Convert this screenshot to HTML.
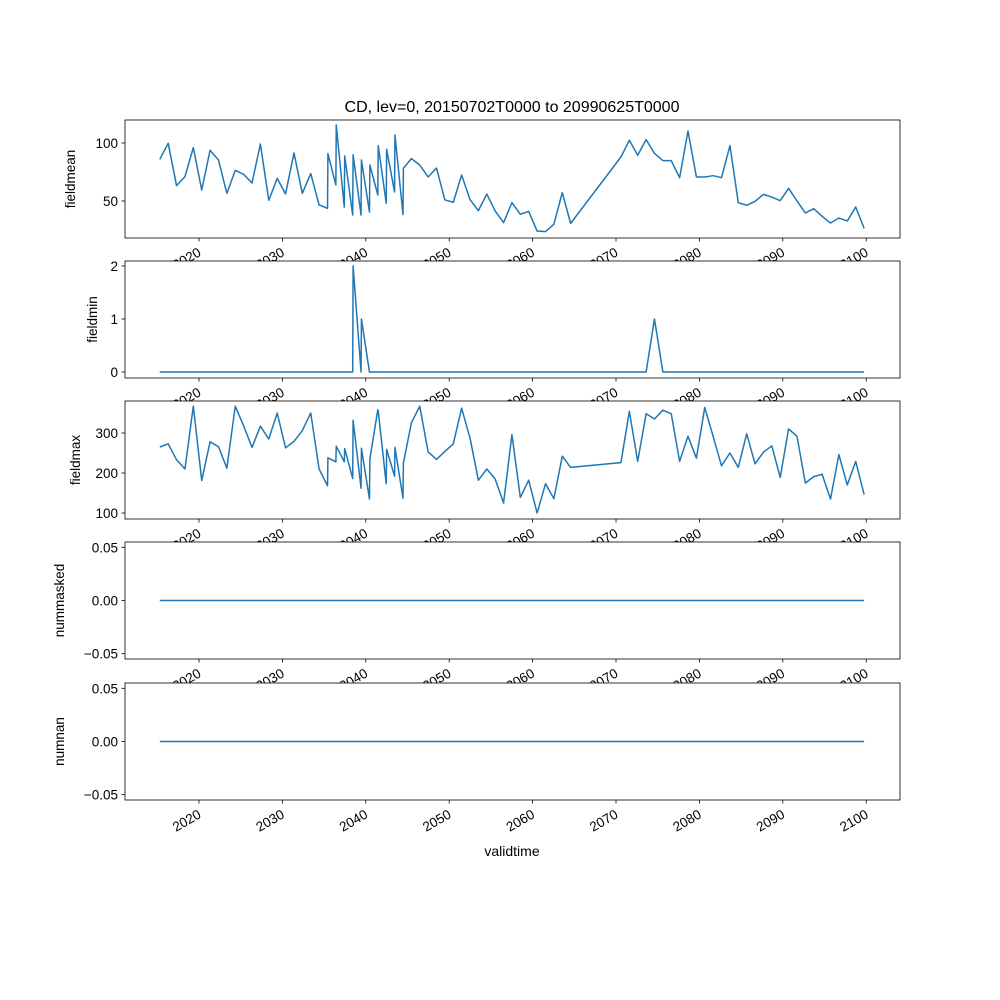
<!DOCTYPE html>
<html><head><meta charset="utf-8"><style>
body{margin:0;background:#fff}
svg{display:block;font-family:"Liberation Sans","DejaVu Sans",sans-serif}
</style></head><body>
<svg id="fig" width="1000" height="1000" viewBox="0 0 1000 1000">
<rect width="1000" height="1000" fill="#fff"/>
<text x="512" y="112" font-size="16" text-anchor="middle">CD, lev=0, 20150702T0000 to 20990625T0000</text>
<text x="512" y="856" font-size="14" text-anchor="middle">validtime</text>
</svg>
<script>
const years=[2015.3,2016.31,2017.31,2018.32,2019.32,2020.33,2021.33,2022.34,2023.34,2024.35,2025.35,2026.36,2027.36,2028.37,2029.38,2030.38,2031.39,2032.39,2033.4,2034.4,
2035.41,2035.46,2036.41,2036.46,2037.42,2037.47,2038.43,2038.48,2039.43,2039.48,2040.44,2040.49,2041.44,2041.49,2042.45,2042.5,2043.45,2043.5,2044.46,2044.51,
2045.46,2046.47,2047.47,2048.48,2049.48,2050.49,2051.49,2052.5,2053.5,2054.51,2055.51,2056.52,2057.52,2058.53,2059.53,2060.54,2061.55,2062.55,2063.56,2064.56,
2070.59,2071.6,2072.6,2073.61,2074.61,2075.62,2076.62,2077.63,2078.63,2079.64,2080.64,2081.65,2082.65,2083.66,2084.66,2085.67,2086.67,2087.68,2088.68,2089.69,
2090.69,2091.7,2092.7,2093.71,2094.71,2095.72,2096.72,2097.73,2098.74,2099.75];
const fieldmean=[85.9,99.7,63.2,71.0,96.0,59.5,93.7,85.3,56.6,76.4,73.0,65.5,99.1,50.6,69.5,56.0,91.4,56.6,73.6,46.6,
43.7,90.8,63.8,115.5,44.8,88.8,37.9,89.9,37.9,85.3,40.5,81.0,55.2,97.7,48.0,94.5,57.8,106.9,38.2,78.2,
86.5,81.0,70.7,78.4,50.9,48.9,72.4,51.1,41.7,56.0,41.4,31.3,48.6,38.5,41.1,24.1,23.6,29.9,57.2,30.7,
87.9,102.3,89.4,102.9,91.1,84.8,84.8,70.1,110.3,70.7,70.7,71.8,70.1,97.7,48.6,46.3,49.7,55.7,53.4,50.3,
60.9,50.0,39.7,43.4,36.8,31.0,35.3,32.8,44.8,26.4];
const fieldmin=years.map(y=>0);
fieldmin[27]=2; fieldmin[29]=1; fieldmin[64]=1;
const fieldmax=[265,273,233,210,367,181,278,266,212,367,318,264,317,285,350,263,279,306,350,210,
168,238,228,267,228,261,186,332,162,262,135,235,358,355,173,259,192,264,137,225,
325,367,253,234,254,273,362,287,182,210,185,125,296,139,182,100,173,136,242,214,
226,354,229,348,335,357,348,229,292,237,364,291,218,250,214,298,223,252,268,189,
310,292,175,191,197,135,246,170,229,146];
const nummasked=years.map(y=>0);
const numnan=years.map(y=>0);
const xTicks=[2020,2030,2040,2050,2060,2070,2080,2090,2100];
const panels=[
 {name:'fieldmean',vals:fieldmean,top:120,bot:238,ymin:18.1,ymax:119.8,ticks:[50,100],lab:v=>String(v),lx:75},
 {name:'fieldmin',vals:fieldmin,top:261,bot:378,ymin:-0.113,ymax:2.094,ticks:[0,1,2],lab:v=>String(v),lx:97},
 {name:'fieldmax',vals:fieldmax,top:401,bot:519,ymin:85,ymax:380,ticks:[100,200,300],lab:v=>String(v),lx:80},
 {name:'nummasked',vals:nummasked,top:542,bot:659,ymin:-0.055,ymax:0.055,ticks:[-0.05,0,0.05],lab:v=>(v<0?'\u22120.05':v.toFixed(2)),lx:64},
 {name:'numnan',vals:numnan,top:683,bot:800,ymin:-0.055,ymax:0.055,ticks:[-0.05,0,0.05],lab:v=>(v<0?'\u22120.05':v.toFixed(2)),lx:64}
];
const NS='http://www.w3.org/2000/svg';
const svg=document.getElementById('fig');
const L=125,R=900,XMIN=2011.13,XMAX=2104.05;
const xs=v=>L+(v-XMIN)/(XMAX-XMIN)*(R-L);
function mk(tag,at,parent){const e=document.createElementNS(NS,tag);for(const k in at)e.setAttribute(k,at[k]);(parent||svg).appendChild(e);return e;}
panels.forEach((p,i)=>{
 const ys=v=>p.bot-(v-p.ymin)/(p.ymax-p.ymin)*(p.bot-p.top);
 const g=mk('g',{});
 
 
 const bg=mk('rect',{x:L,y:p.top,width:R-L,height:p.bot-p.top,fill:'#fff'},g);
 
 
 const d=years.map((y,j)=>(j?'L':'M')+xs(y).toFixed(2)+' '+ys(p.vals[j]).toFixed(2)).join(' ');
 const line=mk('path',{d:d,fill:'none',stroke:'#1f77b4','stroke-width':1.5,'stroke-linejoin':'round'},g);
 
 
 const fr=mk('rect',{x:L,y:p.top,width:R-L,height:p.bot-p.top,fill:'none',stroke:'#000','stroke-width':0.8},g);
 
 
 p.ticks.forEach(t=>{
  const y=ys(t);
  mk('line',{x1:L-3.5,x2:L,y1:y,y2:y,stroke:'#000','stroke-width':0.8},g);
  const tx=mk('text',{x:L-7,y:y+5,'font-size':13.5,'text-anchor':'end'},g);
  tx.textContent=p.lab(t);
  
  
 });
 const yt=mk('text',{x:p.lx,y:(p.top+p.bot)/2,'font-size':13.5,'text-anchor':'middle',transform:'rotate(-90 '+p.lx+' '+(p.top+p.bot)/2+')'},g);
 yt.textContent=p.name;
 
 
 xTicks.forEach(t=>{
  const x=xs(t);
  mk('line',{x1:x,x2:x,y1:p.bot,y2:p.bot+3.5,stroke:'#000','stroke-width':0.8},g);
  const ax=x+3,ay=p.bot+17;
  const tx=mk('text',{x:ax,y:ay,'font-size':13.5,'text-anchor':'end',transform:'rotate(-30 '+ax+' '+ay+')'},g);
  tx.textContent=String(t);
  
  
 });
});
</script>
</body></html>
